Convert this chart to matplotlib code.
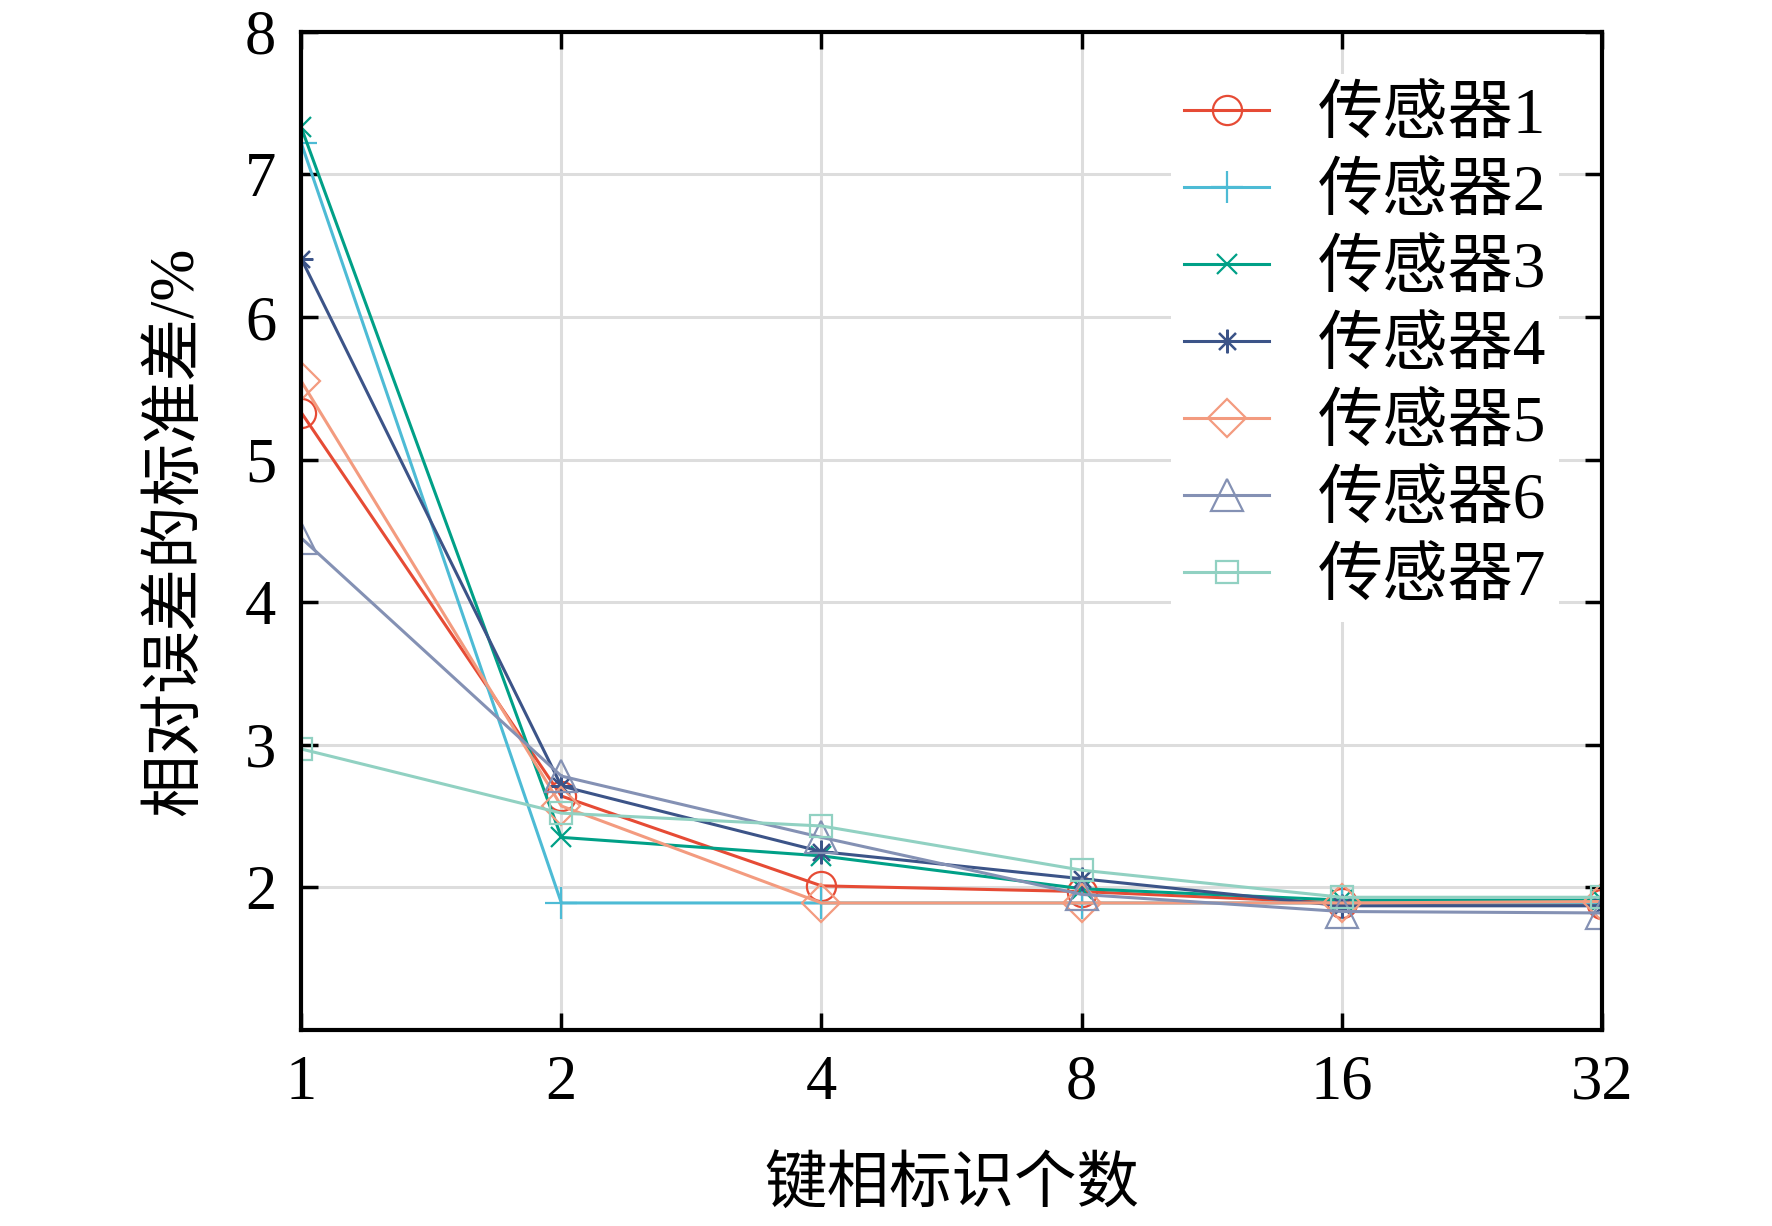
import numpy as np
import matplotlib
matplotlib.use('Agg')
import matplotlib.pyplot as plt

plt.rcParams['font.family'] = ['Liberation Serif', 'Noto Sans CJK SC']
plt.rcParams['axes.unicode_minus'] = False

# data
x = [1, 2, 4, 8, 16, 32]
s1 = [5.33, 2.64, 2.01, 1.97, 1.89, 1.88]
s2 = [7.22, 1.89, 1.89, 1.89, 1.89, 1.89]
s3 = [7.33, 2.35, 2.22, 1.99, 1.91, 1.91]
s4 = [6.41, 2.71, 2.25, 2.06, 1.87, 1.87]
s5 = [5.55, 2.57, 1.89, 1.89, 1.89, 1.90]
s6 = [4.45, 2.78, 2.35, 1.95, 1.83, 1.82]
s7 = [2.97, 2.52, 2.43, 2.12, 1.93, 1.93]
series = [s1, s2, s3, s4, s5, s6, s7]
labels = ['传感器1', '传感器2', '传感器3', '传感器4', '传感器5', '传感器6', '传感器7']
xticks = [1, 2, 4, 8, 16, 32]
yticks = [2, 3, 4, 5, 6, 7, 8]

colors = ['#E64B35', '#4DBBD5', '#00A087', '#3C5488', '#F39B7F', '#8491B4', '#91D1C2']
markers = ['o', '+', 'x', (8, 2, 0), 'D', '^', 's']
msizes = [21, 23, 15, 17, 19, 23, 16]

fig = plt.figure(figsize=(17.72, 12.26), dpi=100)
ax = fig.add_axes([0.170, 0.160, 0.734, 0.814])

for y, lab, c, m, ms in zip(series, labels, colors, markers, msizes):
    ax.plot(x, y, color=c, lw=2.2, marker=m, ms=ms, mfc='none', mec=c, mew=1.6,
            label=lab)

ax.set_xscale('log', base=2)
ax.set_xlim(1, 32)
ax.set_ylim(1, 8)
ax.set_xticks(xticks)
ax.set_xticklabels([str(v) for v in xticks])
ax.minorticks_off()
ax.set_yticks(yticks)
ax.grid(True, color='#dddddd', lw=2.2)
ax.set_axisbelow(True)

for sp in ax.spines.values():
    sp.set_linewidth(3)
ax.tick_params(direction='in', length=12, width=2.5, labelsize=45,
               top=True, right=True, pad=18)

ax.set_xlabel('键相标识个数', fontsize=45, labelpad=32)
ax.set_ylabel('相对误差的标准差/%', fontsize=45, labelpad=28)

leg = ax.legend(loc='upper right', fontsize=47, frameon=True, fancybox=False,
                edgecolor='none', facecolor='white', framealpha=1,
                handlelength=1.3, handletextpad=0.75, labelspacing=0.26,
                borderpad=0.2, borderaxespad=0.65)

fig.savefig('out.png', dpi=100)
